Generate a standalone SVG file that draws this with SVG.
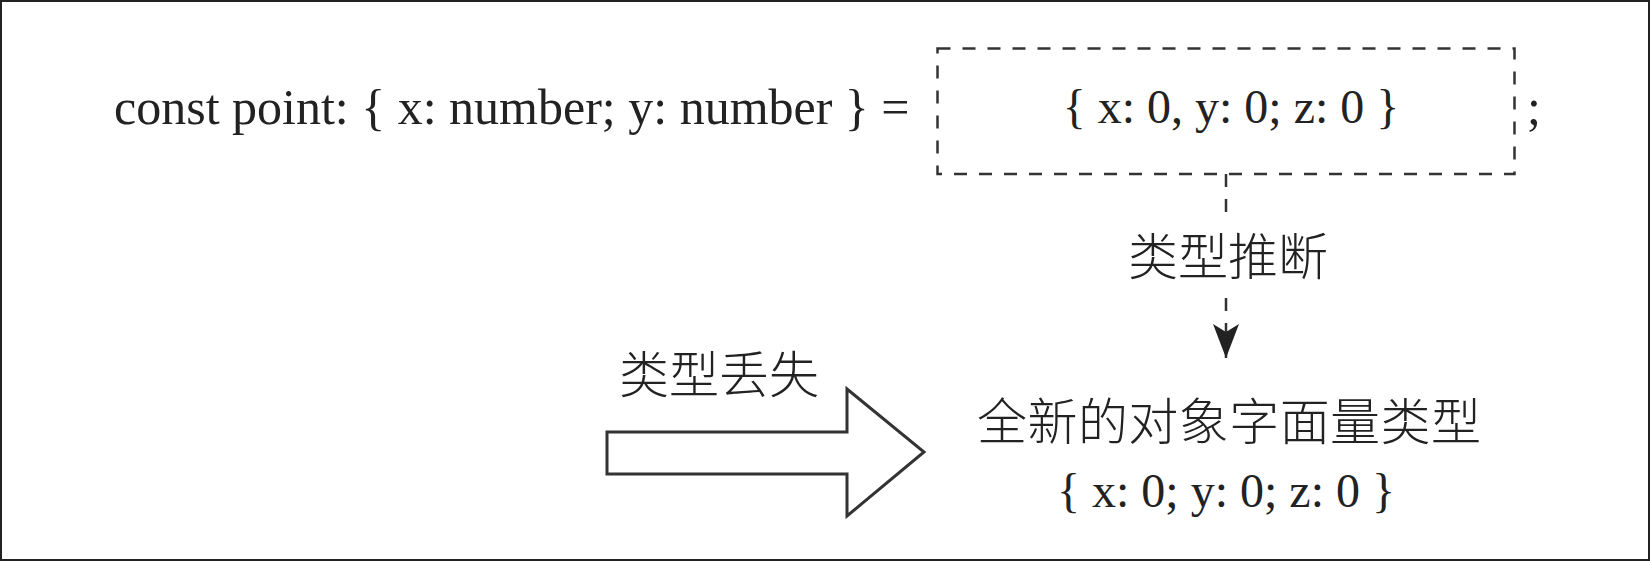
<svg xmlns="http://www.w3.org/2000/svg" width="1650" height="561" viewBox="0 0 1650 561">
  <style>
    .code { font-family: "Liberation Serif", "Times New Roman", serif; fill: #222; }
    .cjk { font-family: "Noto Sans CJK SC", "Noto Sans CJK JP", sans-serif; font-weight: 300; fill: #222; }
    .dash { fill: none; stroke: #333; stroke-width: 2.5; stroke-dasharray: 13 12; }
    .solid { fill: #fff; stroke: #333; stroke-width: 3; stroke-linejoin: miter; }
  </style>
  <defs>
    <marker id="head" markerUnits="userSpaceOnUse" markerWidth="34" markerHeight="26" viewBox="0 0 34 26" refX="34" refY="13" orient="auto">
      <path d="M34 13 L0 0 L8 13 L0 26 Z" fill="#222"/>
    </marker>
  </defs>
  <rect x="1" y="1" width="1648" height="559" fill="#fff" stroke="#222" stroke-width="2"/>

  <g id="node-declaration">
    <text class="code" x="114" y="124" font-size="50">const point: { x: number; y: number } =</text>
  </g>

  <g id="node-literal">
    <rect class="dash" x="937.5" y="48.5" width="577" height="125.5"/>
    <text class="code" x="1231" y="123" font-size="48" text-anchor="middle">{ x: 0, y: 0; z: 0 }</text>
  </g>

  <g id="node-semicolon">
    <text class="code" x="1527" y="124" font-size="50">;</text>
  </g>

  <g id="connectors">
    <line class="dash" x1="1226" y1="174" x2="1226" y2="212"/>
    <line class="dash" x1="1226" y1="298" x2="1226" y2="358" marker-end="url(#head)"/>
  </g>

  <g id="label-inference">
    <text class="cjk" x="1228" y="275" font-size="50" text-anchor="middle">类型推断</text>
  </g>

  <g id="node-lost">
    <polygon class="solid" points="607,432 847,432 847,389 924,452 847,516 847,474 607,474"/>
    <text class="cjk" x="719" y="393" font-size="50" text-anchor="middle">类型丢失</text>
  </g>

  <g id="node-result">
    <text class="cjk" x="977" y="440" font-size="50" textLength="504" lengthAdjust="spacing">全新的对象字面量类型</text>
    <text class="code" x="1226" y="507" font-size="48" text-anchor="middle">{ x: 0; y: 0; z: 0 }</text>
  </g>
</svg>
